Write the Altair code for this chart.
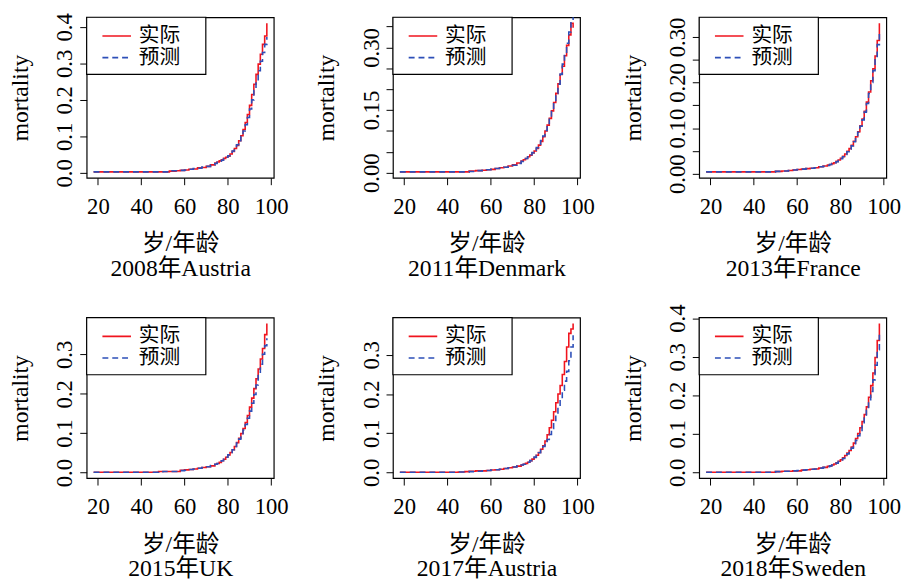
import altair as alt
import pandas as pd

FONT = "Liberation Serif, Times New Roman, Noto Sans CJK SC"
RED = "#F0141E"
BLUE = "#2D4FB8"

SERIES = ["实际", "预测"]
TITLES = ["2008年Austria", "2011年Denmark", "2013年France",
          "2015年UK", "2017年Austria", "2018年Sweden"]
X_TITLE = "岁/年龄"
Y_TITLE = "mortality"
X_TICKS = [20, 40, 60, 80, 100]

AGES = [18, 30, 40, 45, 48, 50, 53, 56, 58, 60, 62, 64, 66, 68, 70, 72, 74,
        75, 76, 77, 78, 79, 80, 81, 82, 83, 84, 85, 86, 87, 88, 89, 90,
        91, 92, 93, 94, 95, 96, 97, 98]

# 2008 Austria
act_2008_at = [.003, .003, .003, .003, .003, .003, .005, .006, .007, .008, .010, .011, .014, .015, .018, .022, .027,
               .030, .033, .036, .040, .043, .046, .052, .059, .067, .075, .088, .102, .119, .138, .160, .185,
               .215, .243, .270, .298, .325, .352, .375, .410]
pre_2008_at = [.003, .003, .003, .003, .003, .003, .006, .006, .007, .008, .010, .012, .013, .016, .018, .022, .026,
               .029, .032, .035, .039, .043, .047, .053, .060, .068, .077, .088, .100, .115, .132, .152, .175,
               .200, .226, .252, .280, .306, .330, .352, .372]
# 2011 Denmark
act_2011_dk = [.002, .002, .002, .002, .002, .004, .005, .006, .007, .008, .010, .012, .013, .016, .019, .023, .028,
               .031, .034, .038, .042, .047, .052, .058, .066, .075, .086, .100, .114, .130, .148, .168, .190,
               .213, .235, .255, .280, .305, .330, .358, .347]
pre_2011_dk = [.002, .002, .002, .002, .002, .003, .005, .006, .007, .008, .010, .011, .013, .015, .018, .022, .027,
               .030, .034, .038, .043, .048, .054, .060, .068, .077, .088, .101, .115, .131, .149, .169, .190,
               .212, .236, .260, .285, .310, .337, .362, .390]
# 2013 France
act_2013_fr = [.004, .004, .004, .004, .004, .005, .006, .007, .008, .009, .010, .011, .012, .013, .015, .017, .019,
               .020, .022, .024, .027, .030, .034, .038, .043, .049, .055, .062, .071, .081, .092, .105, .120,
               .137, .157, .179, .204, .230, .258, .292, .330]
pre_2013_fr = [.004, .004, .004, .004, .004, .005, .006, .007, .008, .009, .010, .011, .012, .013, .015, .016, .018,
               .020, .022, .024, .026, .029, .033, .037, .042, .048, .054, .061, .070, .080, .091, .104, .118,
               .135, .154, .176, .200, .226, .254, .283, .311]
# 2015 UK
act_2015_uk = [.001, .001, .001, .001, .003, .003, .003, .003, .006, .007, .008, .009, .011, .013, .015, .017, .021,
               .023, .026, .030, .034, .039, .045, .051, .058, .066, .076, .087, .099, .112, .127, .145, .166,
               .189, .213, .238, .263, .288, .315, .350, .378]
pre_2015_uk = [.001, .001, .001, .001, .002, .003, .003, .003, .005, .006, .008, .009, .011, .013, .015, .018, .021,
               .023, .026, .030, .034, .039, .045, .051, .058, .066, .075, .085, .096, .108, .122, .138, .156,
               .176, .198, .222, .248, .275, .300, .322, .341]
# 2017 Austria
act_2017_at = [.0005, .0005, .0005, .001, .002, .003, .004, .004, .005, .006, .007, .008, .010, .012, .014, .016, .019,
               .021, .023, .026, .030, .034, .038, .044, .051, .059, .068, .080, .096, .114, .133, .155, .178,
               .200, .222, .250, .283, .320, .355, .366, .380]
pre_2017_at = [.0005, .0005, .0005, .001, .001, .002, .003, .004, .005, .006, .007, .008, .010, .012, .014, .016, .019,
               .021, .023, .026, .030, .034, .039, .044, .050, .057, .066, .074, .084, .097, .112, .130, .148,
               .166, .188, .210, .233, .258, .285, .320, .350]
# 2018 Sweden
act_2018_se = [.0005, .0005, .0005, .0005, .0005, .002, .003, .003, .004, .004, .006, .007, .008, .009, .011, .013, .016,
               .017, .019, .022, .025, .029, .033, .038, .044, .050, .057, .066, .076, .088, .101, .116, .132,
               .150, .170, .195, .225, .258, .298, .342, .386]
pre_2018_se = [.0005, .0005, .0005, .0005, .0005, .002, .003, .003, .004, .005, .006, .007, .008, .009, .011, .013, .015,
               .017, .019, .021, .024, .028, .032, .036, .042, .048, .055, .063, .072, .083, .095, .109, .124,
               .141, .161, .184, .210, .240, .278, .318, .357]

ACTUAL = [act_2008_at, act_2011_dk, act_2013_fr, act_2015_uk, act_2017_at, act_2018_se]
PREDICTED = [pre_2008_at, pre_2011_dk, pre_2013_fr, pre_2015_uk, pre_2017_at, pre_2018_se]

Y_TICKS = [
    [0.0, 0.1, 0.2, 0.3, 0.4],
    [0.0, 0.05, 0.10, 0.15, 0.20, 0.25, 0.30, 0.35],
    [0.0, 0.05, 0.10, 0.15, 0.20, 0.25, 0.30],
    [0.0, 0.1, 0.2, 0.3],
    [0.0, 0.1, 0.2, 0.3],
    [0.0, 0.1, 0.2, 0.3, 0.4],
]
Y_LABELS = [
    ["0.0", "0.1", "0.2", "0.3", "0.4"],
    ["0.00", "0.15", "0.30"],
    ["0.00", "0.10", "0.20", "0.30"],
    ["0.0", "0.1", "0.2", "0.3"],
    ["0.0", "0.1", "0.2", "0.3"],
    ["0.0", "0.1", "0.2", "0.3", "0.4"],
]
Y_FORMAT = [".1f", ".2f", ".2f", ".1f", ".1f", ".1f"]

FS_TICK = 23
FS_TITLE = 24
FS_LEGEND = 21

# legend box layout (pixels inside each plot area)
LEG_W, LEG_H = 121, 58
LEG_ROW_Y = [19, 41]
LEG_SYM_X = [16, 45]
LEG_TEXT_X = 53

INDEP = dict(x="independent", y="independent", color="independent", strokeDash="independent")

COLOR_SCALE = alt.Scale(domain=SERIES, range=[RED, BLUE])
DASH_SCALE = alt.Scale(domain=SERIES, range=[[1, 0], [6, 4]])


def r_range(vals):
    lo, hi = min(vals), max(vals)
    pad = 0.04 * (hi - lo)
    return [lo - pad, hi + pad]


def panel(i):
    n = len(AGES)
    df = pd.DataFrame({
        "age": AGES + AGES,
        "mortality": ACTUAL[i] + PREDICTED[i],
        "series": [SERIES[0]] * n + [SERIES[1]] * n,
    })
    keep = "[" + ",".join("'%s'" % s for s in Y_LABELS[i]) + "]"
    lines = alt.Chart(df).mark_line(
        interpolate="step-after", strokeWidth=1.6, clip=True
    ).encode(
        x=alt.X("age:Q",
                scale=alt.Scale(domain=r_range(AGES), nice=False, zero=False),
                axis=alt.Axis(values=X_TICKS, format="d", title=[X_TITLE, TITLES[i]],
                              titleLineHeight=25, titlePadding=14,
                              labelPadding=11, labelFlush=False, labelOverlap=False)),
        y=alt.Y("mortality:Q",
                scale=alt.Scale(domain=r_range(ACTUAL[i]), nice=False, zero=False),
                axis=alt.Axis(values=Y_TICKS[i], format=Y_FORMAT[i], title=Y_TITLE,
                              labelAngle=270, labelAlign="center", labelBaseline="alphabetic",
                              labelExpr="indexof(%s, datum.label) >= 0 ? datum.label : ''" % keep,
                              labelPadding=8, titlePadding=22,
                              labelFlush=False, labelOverlap=False)),
        color=alt.Color("series:N", scale=COLOR_SCALE, legend=None),
        strokeDash=alt.StrokeDash("series:N", scale=DASH_SCALE, legend=None),
    )

    leg_df = pd.DataFrame({"series": SERIES})
    box = alt.Chart(leg_df).transform_filter(alt.datum.series == SERIES[0]).mark_rect(
        fill="white", stroke="black", strokeWidth=1.2
    ).encode(x=alt.value(0), x2=alt.value(LEG_W), y=alt.value(0), y2=alt.value(LEG_H))

    layers = [lines, box]
    for k, s in enumerate(SERIES):
        sym = alt.Chart(leg_df).transform_filter(alt.datum.series == s).mark_rule(
            strokeWidth=1.6
        ).encode(
            x=alt.value(LEG_SYM_X[0]), x2=alt.value(LEG_SYM_X[1]), y=alt.value(LEG_ROW_Y[k]),
            color=alt.Color("series:N", scale=COLOR_SCALE, legend=None),
            strokeDash=alt.StrokeDash("series:N", scale=DASH_SCALE, legend=None),
        )
        txt = alt.Chart(leg_df).transform_filter(alt.datum.series == s).mark_text(
            align="left", baseline="middle", font=FONT, fontSize=FS_LEGEND, color="black"
        ).encode(x=alt.value(LEG_TEXT_X), y=alt.value(LEG_ROW_Y[k]), text="series:N")
        layers += [sym, txt]

    return alt.layer(*layers).properties(width=190, height=163)


rows = [
    alt.hconcat(*[panel(i) for i in range(r * 3, r * 3 + 3)], spacing=25).resolve_scale(**INDEP)
    for r in range(2)
]

chart = alt.vconcat(*rows, spacing=22).resolve_scale(**INDEP).properties(
    padding={"left": 8, "top": 7, "right": 4, "bottom": 2}, background="white"
).configure_view(
    stroke="black", strokeWidth=1.2
).configure_axis(
    domain=False, grid=False, tickSize=7, tickColor="black", tickWidth=1,
    labelFont=FONT, labelFontSize=FS_TICK, labelColor="black",
    titleFont=FONT, titleFontSize=FS_TITLE, titleFontWeight="normal", titleColor="black",
)

chart.save("out.html", embed_options={"renderer": "svg", "actions": False})
